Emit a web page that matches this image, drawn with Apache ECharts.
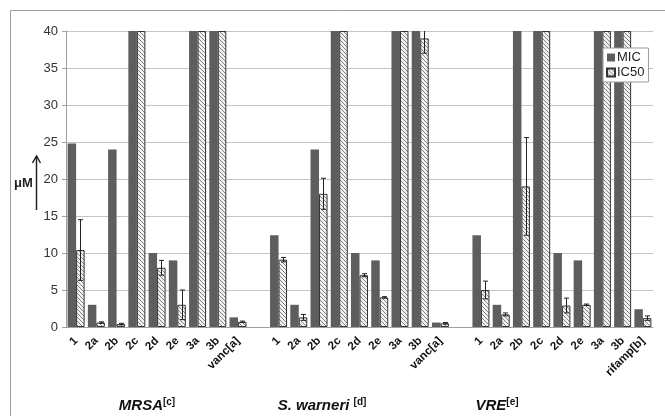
<!DOCTYPE html>
<html>
<head>
<meta charset="utf-8">
<script src="https://cdn.jsdelivr.net/npm/echarts@6/dist/echarts.min.js"></script>
<style>html,body{margin:0;padding:0;background:#fff}#c{width:665px;height:416px}</style>
</head>
<body>
<div id="c"></div>
<script>
const categories = ['1','2a','2b','2c','2d','2e','3a','3b','vanc[a]','',
                    '1','2a','2b','2c','2d','2e','3a','3b','vanc[a]','',
                    '1','2a','2b','2c','2d','2e','3a','3b','rifamp[b]'];
const micValues  = [24.8,3,24,40,10,9,40,40,1.3, null,
                    12.4,3,24,40,10,9,40,40,0.6, null,
                    12.4,3,40,40,10,9,40,40,2.4];
const ic50Values = [10.4,0.6,0.4,40,8,3,40,40,0.7, null,
                    9.1,1.3,18,40,7,4,40,39,0.5, null,
                    5,1.7,19,40,2.9,3,40,40,1.2];
const ic50Errors = [4.1,0.1,0.1,0,1,2,0,0,0.1, null,
                    0.3,0.4,2.1,0,0.2,0.1,0,2,0.1, null,
                    1.2,0.2,6.6,0,1,0.1,0,0,0.3];
const yTicks = {min:0, max:40, interval:5};
const groups = [
  {name:'MRSA', sup:'[c]', x:147},
  {name:'S. warneri ', sup:'[d]', x:322},
  {name:'VRE', sup:'[e]', x:497}
];

const pc = document.createElement('canvas');
pc.width = 4; pc.height = 4;
const g = pc.getContext('2d');
g.fillStyle = '#f0f0f0'; g.fillRect(0,0,4,4);
g.strokeStyle = '#858585'; g.lineWidth = 1;
g.beginPath();
g.moveTo(-1,-1); g.lineTo(5,5);
g.moveTo(-1,3); g.lineTo(1,5);
g.moveTo(3,-1); g.lineTo(5,1);
g.stroke();
const hatch = {image: pc, repeat: 'repeat'};

const BW = 8.5;
const chart = echarts.init(document.getElementById('c'));
const errData = ic50Values.map((v,i)=> v==null ? null : [i, v, ic50Errors[i]]).filter(d=>d && d[2]>0);

chart.setOption({
  animation:false,
  textStyle:{fontFamily:'Liberation Sans, Arial, sans-serif'},
  grid:{left:66, right:12, top:31, bottom:89},
  legend:{
    data:['MIC','IC50'], orient:'vertical', left:603, top:48,
    icon:'rect', itemWidth:8, itemHeight:8, itemGap:2,
    padding:[3,4,3,3], borderColor:'#9a9a9a', borderWidth:1, backgroundColor:'#fff',
    textStyle:{fontSize:13, color:'#222', padding:[0,0,0,-3]}
  },
  xAxis:{
    type:'category', data:categories,
    axisLine:{lineStyle:{color:'#a0a0a0'}},
    axisTick:{show:false},
    axisLabel:{interval:0, rotate:45, fontSize:11.5, fontWeight:'bold', color:'#111', margin:12}
  },
  yAxis:{
    type:'value', min:yTicks.min, max:yTicks.max, interval:yTicks.interval,
    axisLine:{show:true, lineStyle:{color:'#a0a0a0'}},
    axisTick:{show:true, length:4, lineStyle:{color:'#a0a0a0'}},
    axisLabel:{fontSize:13, color:'#333', margin:8},
    splitLine:{lineStyle:{color:'#c4c4c4'}}
  },
  series:[
    {name:'MIC', type:'bar', data:micValues, barWidth:BW, barGap:'0%',
     itemStyle:{color:'#5e5e5e'}},
    {name:'IC50', type:'bar', data:ic50Values, barWidth:BW,
     itemStyle:{color:hatch, borderColor:'#333', borderWidth:1}},
    {name:'err', type:'custom', data:errData, z:5,
     renderItem:function(params, api){
       const i = api.value(0), v = api.value(1), e = api.value(2);
       const top = Math.min(v+e, 40);
       const p0 = api.coord([i, v-e]);
       const p1 = api.coord([i, top]);
       const x = Math.round(p0[0] + BW/2) + 0.5;
       const ch = [{type:'line', shape:{x1:x,y1:p0[1],x2:x,y2:p1[1]}, style:{stroke:'#222', lineWidth:1}},
                   {type:'line', shape:{x1:x-2.5,y1:p0[1],x2:x+2.5,y2:p0[1]}, style:{stroke:'#222', lineWidth:1}}];
       if (v+e <= 40) ch.push({type:'line', shape:{x1:x-2.5,y1:p1[1],x2:x+2.5,y2:p1[1]}, style:{stroke:'#222', lineWidth:1}});
       return {type:'group', children:ch};
     }}
  ],
  graphic:[
    {type:'rect', shape:{x:10.5,y:10.5,width:700,height:500}, style:{fill:null, stroke:'#a0a0a0', lineWidth:1}, silent:true, z:-10},
    {type:'text', left:14, top:177, style:{text:'μM', font:'bold 13px Liberation Sans, Arial', fill:'#222'}},
    {type:'line', shape:{x1:36.5,y1:156,x2:36.5,y2:210}, style:{stroke:'#222', lineWidth:1.5}},
    {type:'polyline', shape:{points:[[32.5,163],[36.5,156],[40.5,163]]}, style:{stroke:'#222', lineWidth:1.5, fill:null}},
  ].concat(groups.map(gr=>({
    type:'text', x:gr.x, y:406,
    style:{
      text:'{a|'+gr.name+'}{s|'+gr.sup+'}',
      align:'center', verticalAlign:'middle',
      rich:{
        a:{font:'italic bold 15px Liberation Sans, Arial', fill:'#111', lineHeight:18},
        s:{font:'bold 10px Liberation Sans, Arial', fill:'#111', lineHeight:18, verticalAlign:'top', padding:[0,0,6,0]}
      }
    }
  })))
});
</script>
</body>
</html>
